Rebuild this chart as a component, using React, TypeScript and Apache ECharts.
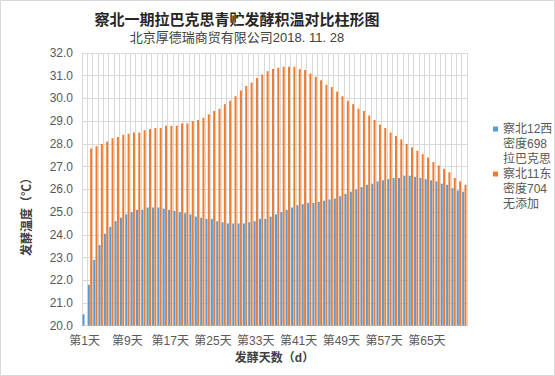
import React, { useEffect, useRef } from "react";
import * as echarts from "echarts";

const titleText = "察北一期拉巴克思青贮发酵积温对比柱形图";
const subtitleText = "北京厚德瑞商贸有限公司2018. 11. 28";
const xAxisName = "发酵天数（d）";
const yAxisName = "发酵温度（℃）";

const days: string[] = Array.from({ length: 72 }, (_, i) => `第${i + 1}天`);

const seriesNames = ["察北12西\n密度698\n拉巴克思", "察北11东\n密度704\n无添加"];
const seriesColors = ["#5B9BD5", "#ED7D31"];

const west12: (number | null)[] = [
  20.5, 21.8, 22.9, 23.55, 24.05, 24.35, 24.6, 24.75, 24.9, 25.0,
  25.1, 25.1, 25.2, 25.2, 25.2, 25.15, 25.1, 25.05, 25.0, 24.95,
  24.9, 24.8, 24.75, 24.7, 24.7, 24.6, 24.55, 24.5, 24.5, 24.5,
  24.5, 24.55, 24.6, 24.7, 24.7, 24.8, 24.9, 25.0, 25.1, 25.2,
  25.3, 25.35, 25.4, 25.4, 25.45, 25.5, 25.55, 25.6, 25.7, 25.8,
  25.9, 26.0, 26.1, 26.2, 26.25, 26.35, 26.4, 26.45, 26.5, 26.5,
  26.6, 26.6, 26.55, 26.5, 26.45, 26.4, 26.35, 26.25, 26.2, 26.05,
  25.95, 25.9,
];

const east11: (number | null)[] = [
  null, 27.8, 27.9, 28.0, 28.1, 28.25, 28.3, 28.4, 28.45, 28.5,
  28.5, 28.6, 28.65, 28.7, 28.7, 28.8, 28.8, 28.8, 28.9, 28.9,
  29.0, 29.05, 29.15, 29.3, 29.45, 29.55, 29.75, 29.9, 30.1, 30.35,
  30.55, 30.7, 30.9, 31.05, 31.2, 31.3, 31.35, 31.4, 31.4, 31.4,
  31.3, 31.25, 31.1, 30.95, 30.8, 30.6, 30.5, 30.3, 30.1, 29.9,
  29.75, 29.55, 29.45, 29.25, 29.05, 28.85, 28.7, 28.5, 28.35, 28.2,
  28.0, 27.85, 27.7, 27.55, 27.4, 27.2, 27.05, 26.9, 26.75, 26.5,
  26.35, 26.2,
];

const FONT = "Arial, 'Liberation Sans', 'Noto Sans CJK SC', sans-serif";

export default function App() {
  const ref = useRef<HTMLDivElement>(null);
  useEffect(() => {
    if (!ref.current) return;
    const chart = echarts.init(ref.current, undefined, { renderer: "svg" });
    const legendIcon = "path://M0,0M0,5h5v5h-5zM5,45";
    chart.setOption({
      animation: false,
      backgroundColor: "#ffffff",
      textStyle: { fontFamily: FONT },
      title: [
        {
          text: titleText,
          left: 237,
          top: 12,
          padding: 0,
          textAlign: "center",
          textStyle: { fontSize: 15, fontWeight: "bold", color: "#262626", fontFamily: FONT },
        },
        {
          text: subtitleText,
          left: 237,
          top: 31,
          padding: 0,
          textAlign: "center",
          textStyle: { fontSize: 13, fontWeight: "normal", color: "#404040", fontFamily: FONT },
        },
      ],
      legend: {
        orient: "vertical",
        left: 493,
        top: 121.5,
        padding: 0,
        itemGap: 0,
        itemWidth: 5,
        itemHeight: 45,
        icon: legendIcon,
        data: seriesNames,
        textStyle: { fontSize: 12, lineHeight: 15, color: "#595959", fontFamily: FONT },
        selectedMode: false,
      },
      grid: { left: 82, top: 53, right: 88, bottom: 50.3, containLabel: false },
      xAxis: {
        type: "category",
        data: days,
        boundaryGap: true,
        name: xAxisName,
        nameLocation: "middle",
        nameGap: 23,
        nameTextStyle: { fontSize: 12, fontWeight: "bold", color: "#404040", fontFamily: FONT },
        axisLine: { show: true, lineStyle: { color: "#D9D9D9", width: 1 } },
        axisTick: { show: false },
        axisLabel: { interval: 7, margin: 9, fontSize: 12, color: "#595959", fontFamily: FONT },
        splitLine: { show: true, interval: 0, lineStyle: { color: "#D9D9D9", width: 1 } },
      },
      yAxis: {
        type: "value",
        min: 20,
        max: 32,
        interval: 1,
        axisLine: { show: false },
        axisTick: { show: false },
        axisLabel: {
          margin: 9,
          fontSize: 12,
          color: "#595959",
          fontFamily: FONT,
          formatter: (v: number) => v.toFixed(1),
        },
        splitLine: { show: true, lineStyle: { color: "#D9D9D9", width: 1 } },
      },
      series: [
        {
          name: seriesNames[0],
          type: "bar",
          data: west12,
          barWidth: 2,
          barGap: "15%",
          itemStyle: { color: seriesColors[0] },
        },
        {
          name: seriesNames[1],
          type: "bar",
          data: east11,
          barWidth: 2,
          barGap: "15%",
          itemStyle: { color: seriesColors[1] },
        },
      ],
      graphic: [
        {
          type: "rect",
          z: -10,
          shape: { x: 0.5, y: 0.5, width: 554, height: 375 },
          style: { fill: "none", stroke: "#D9D9D9", lineWidth: 1 },
          silent: true,
        },
        {
          type: "text",
          x: 27,
          y: 214,
          rotation: Math.PI / 2,
          style: {
            text: yAxisName,
            fontSize: 12,
            fontWeight: "bold",
            fill: "#404040",
            fontFamily: FONT,
            align: "center",
            verticalAlign: "middle",
          },
          silent: true,
        },
      ],
    });
    return () => chart.dispose();
  }, []);
  return (
    <div
      ref={ref}
      style={{ position: "fixed", left: 0, top: 0, width: 555, height: 376 }}
    />
  );
}
